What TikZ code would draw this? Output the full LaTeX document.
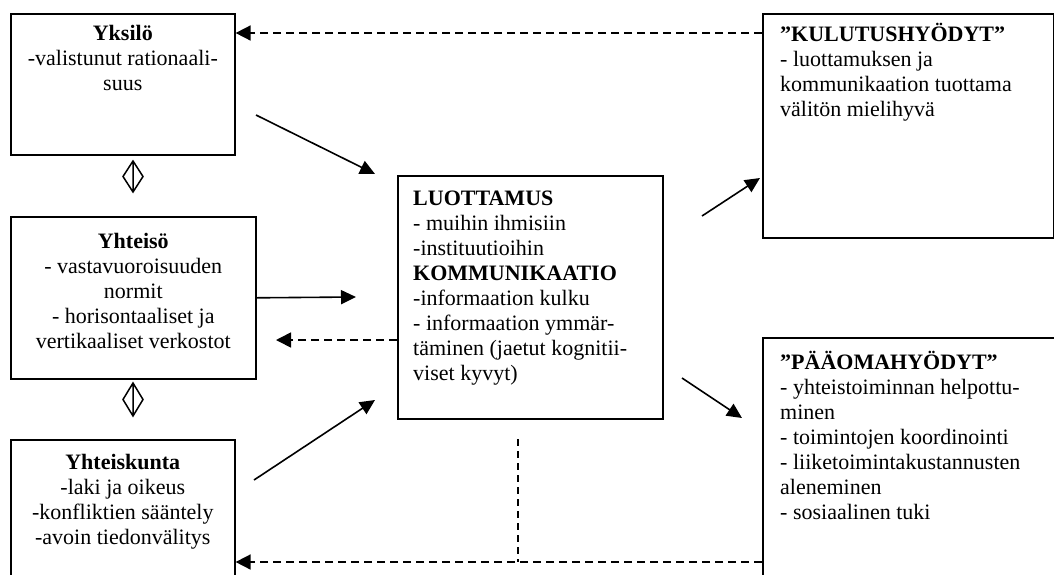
\documentclass[tikz,border=0pt]{standalone}
\usepackage{fontspec}
\setmainfont{Liberation Serif}
\usetikzlibrary{arrows.meta,calc}
\begin{document}
\begin{tikzpicture}[x=1pt,y=-1pt,
  box/.style={draw,line width=1.6pt,rectangle,inner sep=0pt,anchor=north west},
  txt/.style={inner sep=0pt,font=\fontsize{22}{25}\selectfont},
  conn/.style={line width=1.6pt,-{Triangle[length=15pt,width=14pt]}},
  dconn/.style={line width=1.6pt,dash pattern=on 8pt off 5pt,-{Triangle[length=15pt,width=15pt]}},
  dline/.style={line width=1.6pt,dash pattern=on 7pt off 5pt},
  diam/.style={line width=1.5pt}]
\clip (0,0) rectangle (1054,574);
\fill[white] (0,0) rectangle (1054,574);
% boxes
\node[box,minimum width=224pt,minimum height=141pt] (A) at (10,13) {};
\node[box,minimum width=245pt,minimum height=162pt] (B) at (10,216) {};
\node[box,minimum width=224pt,minimum height=200pt] (C) at (10,439) {};
\node[box,minimum width=265pt,minimum height=243pt] (D) at (397,175) {};
\node[box,minimum width=291pt,minimum height=224pt] (E) at (762,13) {};
\node[box,minimum width=310pt,minimum height=300pt] (F) at (762,337) {};
% texts
\node[txt,align=center,anchor=north] (At) at ($(A.north)+(0,9.5)$)
  {\strut\textbf{Yksilö}\\-valistunut rationaali-\\suus};
\node[txt,align=center,anchor=north] (Bt) at ($(B.north)+(0,14.5)$)
  {\strut\textbf{Yhteisö}\\- vastavuoroisuuden\\normit\\- horisontaaliset ja\\vertikaaliset verkostot};
\node[txt,align=center,anchor=north] (Ct) at ($(C.north)+(0,12.5)$)
  {\strut\textbf{Yhteiskunta}\\-laki ja oikeus\\-konfliktien sääntely\\-avoin tiedonvälitys};
\node[txt,align=left,anchor=north west] (Dt) at ($(D.north west)+(16,12.5)$)
  {\strut\textbf{LUOTTAMUS}\\- muihin ihmisiin\\-instituutioihin\\\textbf{KOMMUNIKAATIO}\\-informaation kulku\\- informaation ymmär-\\täminen (jaetut kognitii-\\viset kyvyt)};
\node[txt,align=left,anchor=north west] (Et) at ($(E.north west)+(18,9.5)$)
  {\strut\textbf{”KULUTUSHYÖDYT”}\\- luottamuksen ja\\kommunikaation tuottama\\välitön mielihyvä};
\node[txt,align=left,anchor=north west] (Ft) at ($(F.north west)+(18,13.5)$)
  {\strut\textbf{”PÄÄOMAHYÖDYT”}\\- yhteistoiminnan helpottu-\\minen\\- toimintojen koordinointi\\- liiketoimintakustannusten\\aleneminen\\- sosiaalinen tuki};
% diamonds
\draw[diam] (133,161) -- (143,176.5) -- (133,192) -- (123,176.5) -- cycle (133,161) -- (133,192);
\draw[diam] (133,383) -- (143,399.5) -- (133,416) -- (123,399.5) -- cycle (133,383) -- (133,416);
% free ends
\coordinate (a1s) at (256,115);
\coordinate (a1e) at (375,174);
\coordinate (bdT) at (356,297);
\coordinate (dbT) at (276,340);
\coordinate (c1s) at (254,480);
\coordinate (c1e) at (375,400);
\coordinate (e1s) at (702,216);
\coordinate (e1e) at (760,178);
\coordinate (f1s) at (682,378);
\coordinate (f1e) at (742,418);
\coordinate (vd) at (518,439);
% connectors
\draw[conn] (a1s) -- (a1e);
\draw[conn] (B.east) -- (bdT);
\draw[dconn] (D.west |- dbT) -- (dbT);
\draw[conn] (c1s) -- (c1e);
\draw[conn] (e1s) -- (e1e);
\draw[conn] (f1s) -- (f1e);
\draw[dconn] ($(E.north west)+(0,20)$) -- ($(A.north east)+(0,20)$);
\draw[dconn] ($(F.north west)+(0,225)$) -- ($(C.north east)+(0,123)$);
\draw[dline] (vd) -- (vd |- 0,562);
\end{tikzpicture}
\end{document}
